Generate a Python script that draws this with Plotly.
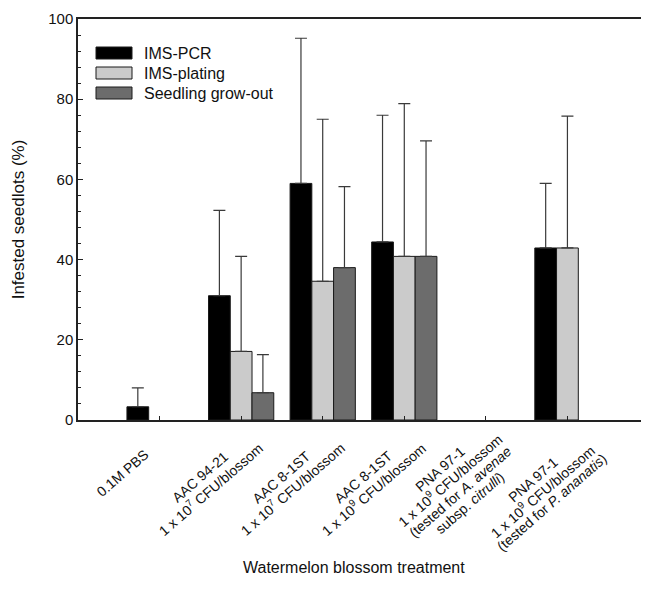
import math
import plotly.graph_objects as go

categories = [
    "0.1M PBS",
    "AAC 94-21<br>1 x 10<sup>7</sup> CFU/blossom",
    "AAC 8-1ST<br>1 x 10<sup>7</sup> CFU/blossom",
    "AAC 8-1ST<br>1 x 10<sup>9</sup> CFU/blossom",
    "PNA 97-1<br>1 x 10<sup>9</sup> CFU/blossom<br>(tested for <i>A. avenae</i><br>subsp. <i>citrulli</i>)",
    "PNA 97-1<br>1 x 10<sup>9</sup> CFU/blossom<br>(tested for <i>P. ananatis</i>)",
]
x_idx = [0, 1, 2, 3, 4, 5]

series_names = ["IMS-PCR", "IMS-plating", "Seedling grow-out"]
pcr = [3.3, 31.0, 59.0, 44.4, None, 42.9]
pcr_err = [4.7, 21.3, 36.2, 31.6, None, 16.1]
plating = [None, 17.1, 34.6, 40.8, None, 42.9]
plating_err = [None, 23.7, 40.4, 38.1, None, 32.9]
growout = [None, 6.8, 38.0, 40.8, None, None]
growout_err = [None, 9.5, 20.2, 28.8, None, None]

y_ticks = [0, 20, 40, 60, 80, 100]

colors = ["#000000", "#cbcbcb", "#6c6c6c"]

# page body has an 8px margin: figure coords = screen coords - 8
OFF = 8
W, H = 641, 587
ML, MT = 78 - OFF, 19 - OFF
PLOT_RIGHT, PLOT_BOTTOM = 649 - OFF, 420 - OFF
MR, MB = W - PLOT_RIGHT, H - PLOT_BOTTOM
PW, PH = PLOT_RIGHT - ML, PLOT_BOTTOM - MT


def px_x(sx):
    return (sx - OFF - ML) / PW


def px_y(sy):
    return (PLOT_BOTTOM - (sy - OFF)) / PH


fig = go.Figure()
for name, vals, errs, col in zip(series_names, [pcr, plating, growout],
                                 [pcr_err, plating_err, growout_err], colors):
    fig.add_trace(go.Bar(
        x=x_idx, y=vals, name=name, showlegend=False,
        marker=dict(color=col, line=dict(color="#1a1a1a", width=1)),
        error_y=dict(type="data", array=errs, arrayminus=[0] * len(errs),
                     symmetric=False, color="#3a3a3a", thickness=1.2, width=6),
    ))

font_family = "Liberation Sans, Arial, sans-serif"

# rotated, centre-aligned category labels (one annotation per text line)
ANGLE = 41
LINE_SP = 15
sin_a, cos_a = math.sin(math.radians(ANGLE)), math.cos(math.radians(ANGLE))
label_dx = [-37, -36, -36, -36, -31, -25]
label_dy = [53, 63, 63, 63, 66, 71]
annotations = []
for xi, txt, dx, dy in zip(x_idx, categories, label_dx, label_dy):
    lines = txt.split("<br>")
    n = len(lines)
    for i, line in enumerate(lines):
        k = (i - (n - 1) / 2) * LINE_SP
        annotations.append(dict(
            x=xi, y=0, xref="x", yref="y", text=line, showarrow=False,
            textangle=-ANGLE, xanchor="center", yanchor="middle",
            xshift=dx + k * sin_a, yshift=-(dy + k * cos_a),
            font=dict(size=14, family=font_family, color="#111111"),
        ))

# x-axis title
annotations.append(dict(
    x=px_x(354), y=px_y(567), xref="paper", yref="paper",
    text="Watermelon blossom treatment", showarrow=False,
    xanchor="center", yanchor="middle", font=dict(size=16, family=font_family, color="#111111"),
))

# legend drawn as swatches + labels
shapes = []
row_y = [53, 73, 93]
for name, col, ry in zip(series_names, colors, row_y):
    shapes.append(dict(type="rect", xref="paper", yref="paper",
                       x0=px_x(96), x1=px_x(132), y0=px_y(ry + 6), y1=px_y(ry - 6),
                       fillcolor=col, line=dict(color="#1a1a1a", width=1)))
    annotations.append(dict(
        x=px_x(142), y=px_y(ry), xref="paper", yref="paper",
        text=name, showarrow=False, xanchor="left", yanchor="middle",
        font=dict(size=16, family=font_family, color="#111111"),
    ))

fig.update_layout(
    width=W, height=H,
    margin=dict(l=ML, r=MR, t=MT, b=MB, autoexpand=False),
    paper_bgcolor="white", plot_bgcolor="white",
    barmode="group", bargap=0.2, bargroupgap=0,
    font=dict(family=font_family, color="#111111", size=14),
    showlegend=False,
    annotations=annotations,
    shapes=shapes,
    xaxis=dict(
        range=[-1, 6], tickmode="array", tickvals=x_idx, ticktext=[""] * len(x_idx),
        showline=True, linecolor="#222222", linewidth=1.5, mirror=True,
        ticks="inside", ticklen=4, tickcolor="#222222",
        showgrid=False, zeroline=False, automargin=False,
    ),
    yaxis=dict(
        range=[0, 100], tickvals=y_ticks,
        showline=True, linecolor="#222222", linewidth=1.5, mirror=False,
        ticks="inside", ticklen=5, tickcolor="#222222",
        minor=dict(ticks="inside", ticklen=3, dtick=4, tickcolor="#222222", showgrid=False),
        showgrid=False, zeroline=False, tickfont=dict(size=15), automargin=False,
        title=dict(text="Infested seedlots (%)", font=dict(size=17), standoff=19),
    ),
)

fig.write_html("out.html")
